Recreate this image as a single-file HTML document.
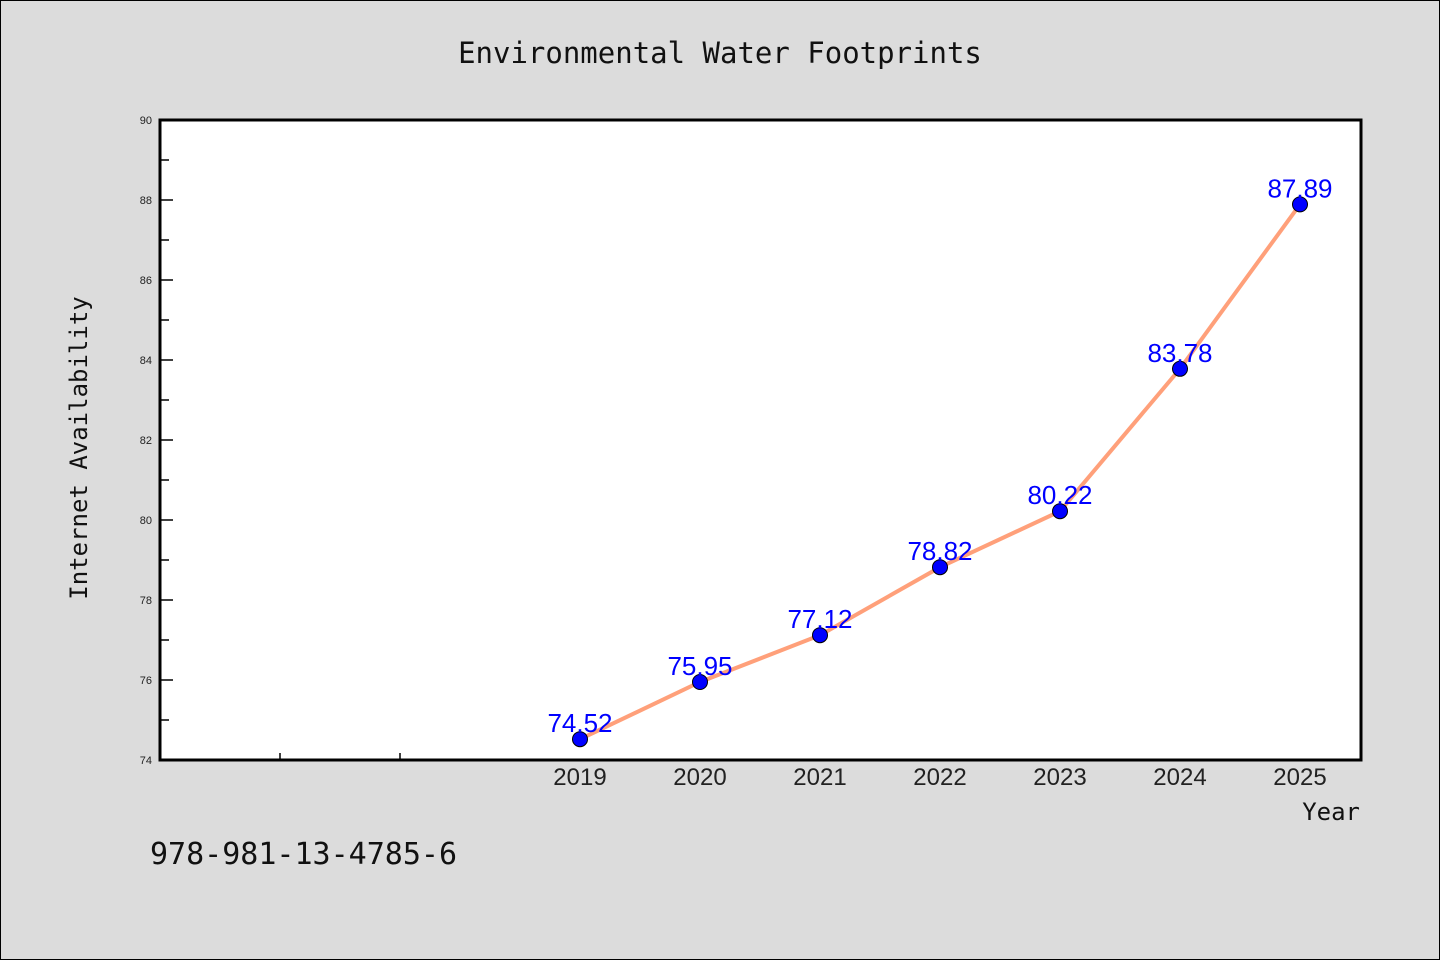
<!DOCTYPE html>
<html><head><meta charset="utf-8"><style>
body{margin:0;background:#dcdcdc;}
svg{display:block;font-family:"DejaVu Sans Mono","Liberation Mono",monospace;}
</style></head><body>
<svg id="chart" width="1440" height="960">
<rect x="0.5" y="0.5" width="1439" height="959" fill="#dcdcdc" stroke="#000"/>
<text x="720" y="63" font-size="29" text-anchor="middle" fill="#111">Environmental Water Footprints</text>
<rect x="160" y="120" width="1201" height="640" fill="#fff"/>
<g id="axes"></g>
<g id="marks"></g>
<rect x="160" y="120" width="1201" height="640" fill="none" stroke="#000" stroke-width="3"/>
<text x="87" y="448" font-size="24" text-anchor="middle" fill="#111" transform="rotate(-90 87 448)">Internet Availability</text>
<text x="1360" y="820" font-size="24" text-anchor="end" fill="#111">Year</text>
<text x="150" y="864" font-size="30" fill="#111">978-981-13-4785-6</text>
</svg>
<script>
const years=[2019,2020,2021,2022,2023,2024,2025];
const values=[74.52,75.95,77.12,78.82,80.22,83.78,87.89];
const yTicks=[74,76,78,80,82,84,86,88,90];
const NS="http://www.w3.org/2000/svg";
const x=v=>580+(v-2019)*120;
const y=v=>760-(v-74)*40;
function mk(tag,attrs,parent,txt){const e=document.createElementNS(NS,tag);for(const k in attrs)e.setAttribute(k,attrs[k]);if(txt!==undefined)e.textContent=txt;parent.appendChild(e);return e;}
const ax=document.getElementById('axes'),mg=document.getElementById('marks');
yTicks.forEach(t=>{
 const l=mk('line',{x1:160,x2:173,y1:y(t),y2:y(t),stroke:'#000','stroke-width':1.5},ax);
 
 
 const tx=mk('text',{x:152,y:y(t)+4,'font-size':11,'text-anchor':'end',fill:'#222','font-family':'Liberation Sans, sans-serif'},ax,String(t));
 
 
 if(t<90){const m=mk('line',{x1:160,x2:169,y1:y(t+1),y2:y(t+1),stroke:'#000','stroke-width':1.5},ax);
 
 }
});
[2016,2017,2018].forEach(v=>{
 const l=mk('line',{x1:x(v)-60,x2:x(v)-60,y1:760,y2:753,stroke:'#000','stroke-width':1.5},ax);
 
 
});
years.forEach(v=>{
 const t=mk('text',{x:x(v),y:785,'font-size':24,'text-anchor':'middle',fill:'#222','font-family':'Liberation Sans, sans-serif'},ax,String(v));
 
 
});
const pl=mk('polyline',{points:years.map((v,i)=>x(v)+','+y(values[i])).join(' '),fill:'none',stroke:'#ffa07a','stroke-width':4},mg);


years.forEach((v,i)=>{
 const c=mk('circle',{cx:x(v),cy:y(values[i]),r:7.5,fill:'#0000ff',stroke:'#000','stroke-width':1},mg);
 
 
 const t=mk('text',{x:x(v),y:y(values[i])-7,'font-size':26,'text-anchor':'middle',fill:'#0000ff','font-family':'Liberation Sans, sans-serif'},mg,values[i].toFixed(2));
 
 
});
</script>
</body></html>
